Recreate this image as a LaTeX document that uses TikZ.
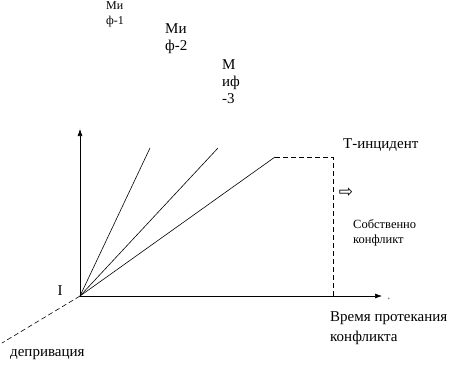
\documentclass[tikz,border=0pt]{standalone}
\usepackage{fontspec}
\setmainfont{Liberation Serif}
\newfontfamily\symfont{DejaVu Sans}
\usetikzlibrary{arrows.meta}
\begin{document}
\begin{tikzpicture}[x=1pt,y=-1pt,
  ln/.style={line width=0.6pt,black},
  dsh/.style={ln,dash pattern=on 5pt off 3pt},
  ax/.style={ln,-{Latex[length=7pt,width=5pt]}},
  lbl/.style={inner sep=0pt,anchor=west,align=left},
  big/.style={font=\fontsize{15}{20}\selectfont},
  mid/.style={font=\fontsize{15}{17}\selectfont},
  sml/.style={font=\fontsize{12.5}{15}\selectfont},
  tny/.style={font=\fontsize{12}{15}\selectfont}]
\useasboundingbox (0,0) rectangle (450,368);
\coordinate (O) at (80,296);
\coordinate (Y) at (80,129);
\coordinate (X) at (382,296);
\coordinate (L1) at (150,148);
\coordinate (L2) at (218,148);
\coordinate (L3) at (275,157);
\coordinate (C) at (333,157);
\coordinate (B) at (333,296);
\coordinate (D) at (2,343);
\draw[ax] (O) -- (Y);
\draw[ax] (O) -- (X);
\draw[ln] (O) -- (L1);
\draw[ln] (O) -- (L2);
\draw[ln] (O) -- (L3);
\draw[dsh] (L3) -- (C) -- (B);
\draw[dsh] (O) -- (D);
\node[lbl,tny] (m1) at (106,14.5) {Ми\\ф-1};
\node[lbl,mid] (m2) at (165,38.5) {Ми\\ф-2};
\node[lbl,mid] (m3) at (222,82) {М\\иф\\-3};
\node[lbl,big] (ti) at (343,145) {Т-инцидент};
\node[inner sep=0pt,font=\symfont\fontsize{17}{17}\selectfont] (ar) at (346,193) {⇨};
\node[lbl,sml] (sk) at (353,233) {Собственно\\конфликт};
\node[lbl,big] (vp) at (330,328) {Время протекания\\конфликта};
\node[lbl,big] (dp) at (10,355) {депривация};
\node[big,inner sep=0pt] (I) at (60,291) {I};
\node[inner sep=0pt,font=\fontsize{5}{5}\selectfont] (t) at (389,299) {+};
\end{tikzpicture}
\end{document}
